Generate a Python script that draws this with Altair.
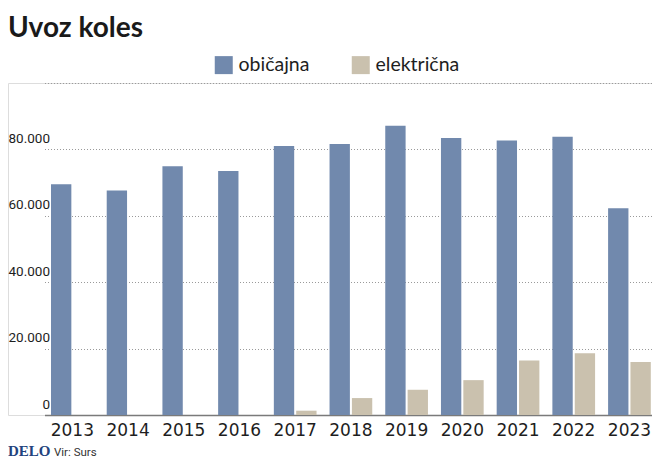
import altair as alt
import pandas as pd

years = ["2013", "2014", "2015", "2016", "2017", "2018", "2019", "2020", "2021", "2022", "2023"]
obicajna = [69500, 67600, 74900, 73500, 81000, 81600, 87100, 83400, 82700, 83800, 62300]
elektricna = [0, 0, 0, 0, 1300, 5100, 7600, 10500, 16400, 18600, 16000]
series = ["običajna", "električna"]
colors = ["#7189ad", "#cac1ae"]
y_ticks = [0, 20000, 40000, 60000, 80000, 100000]

rows = []
for i, yr in enumerate(years):
    rows.append({"leto": yr, "vrsta": series[0], "uvoz": obicajna[i]})
    rows.append({"leto": yr, "vrsta": series[1], "uvoz": elektricna[i]})
df = pd.DataFrame(rows)

bars = alt.Chart(df).mark_bar().encode(
    x=alt.X(
        "leto:O",
        sort=years,
        scale=alt.Scale(range=[36.5, 649.3], paddingInner=0.2335, paddingOuter=0.11675),
        axis=alt.Axis(
            title=None, labelAngle=0, ticks=False, domain=True, domainColor="#7a7a7a",
            domainWidth=1.5, labelFont="DejaVu Sans", labelFontSize=17, labelColor="#1e1e1e",
            labelPadding=7, grid=False,
        ),
    ),
    xOffset=alt.XOffset("vrsta:N", sort=series, scale=alt.Scale(paddingInner=0.09, paddingOuter=0)),
    y=alt.Y(
        "uvoz:Q",
        scale=alt.Scale(domain=[0, 100000], nice=False),
        axis=alt.Axis(
            title=None, values=y_ticks, domain=False, ticks=False, tickSize=0,
            labelExpr="datum.value >= 100000 ? '' : replace(format(datum.value, ','), ',', '.')",
            labelAlign="right", labelBaseline="alphabetic", labelPadding=-41.5, labelOffset=-7,
            labelFont="Roboto", labelFontSize=13.5, labelColor="#1e1e1e",
            grid=True, gridColor="#9a9a9a", gridDash=[1, 2], gridWidth=1,
        ),
    ),
    color=alt.Color(
        "vrsta:N",
        sort=series,
        scale=alt.Scale(domain=series, range=colors),
        legend=alt.Legend(
            title=None, orient="none", legendX=206, legendY=-28, direction="horizontal",
            symbolType="square", symbolSize=324, symbolStrokeWidth=0, labelFont="Lato",
            labelFontSize=19.5, labelColor="#1e1e1e", labelOffset=5, columnPadding=41, padding=0,
        ),
    ),
)

footer_src = pd.DataFrame({"t": ["DELO"]})
delo = alt.Chart(footer_src).mark_text(
    font="Liberation Serif", fontWeight="bold", fontSize=15, color="#23437d",
    align="left", baseline="alphabetic",
).encode(text="t:N", x=alt.value(0), y=alt.value(373))

vir_src = pd.DataFrame({"t": ["Vir: Surs"]})
vir = alt.Chart(vir_src).mark_text(
    font="Roboto", fontSize=11.5, color="#333333",
    align="left", baseline="alphabetic",
).encode(text="t:N", x=alt.value(46), y=alt.value(373))

chart = alt.layer(bars, delo, vir).properties(
    width=644,
    height=332,
    title=alt.TitleParams(
        "Uvoz koles", anchor="start", frame="group", font="Lato", fontSize=28,
        fontWeight="bold", color="#1a1a1a", baseline="alphabetic", offset=17, dy=27,
    ),
    autosize=alt.AutoSizeParams(type="none"),
    padding={"left": 0, "top": 75, "right": 0, "bottom": 49},
).configure_view(stroke=None).configure(background="white")

chart.save("out.html", embed_options={"renderer": "svg", "actions": False})
